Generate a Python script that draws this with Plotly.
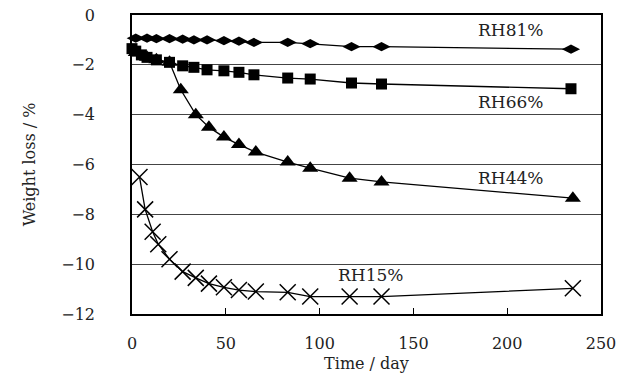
import plotly.graph_objects as go

# Storage time (days) and weight loss (%) for each relative-humidity condition
days_rh81 = [2, 8, 13, 20, 27, 33, 40, 49, 57, 65, 83, 95, 117, 133, 234]
loss_rh81 = [-0.93, -0.93, -0.95, -0.95, -0.97, -1.0, -1.0, -1.03, -1.05, -1.1, -1.1, -1.15, -1.27, -1.27, -1.37]

days_rh66 = [0, 2, 5, 8, 13, 20, 27, 33, 40, 49, 57, 65, 83, 95, 117, 133, 234]
loss_rh66 = [-1.35, -1.45, -1.6, -1.7, -1.8, -1.9, -2.04, -2.1, -2.2, -2.24, -2.3, -2.4, -2.53, -2.57, -2.73, -2.77, -2.96]

days_rh44 = [2, 8, 13, 20, 26, 34, 41, 49, 57, 66, 83, 95, 116, 133, 235]
loss_rh44 = [-1.5, -1.7, -1.8, -1.9, -3.0, -4.0, -4.5, -4.9, -5.2, -5.5, -5.9, -6.15, -6.55, -6.7, -7.35]

days_rh15 = [4, 7, 11, 14, 20, 27, 34, 41, 49, 57, 66, 83, 95, 116, 133, 235]
loss_rh15 = [-6.5, -7.8, -8.7, -9.2, -9.8, -10.3, -10.55, -10.78, -10.93, -11.04, -11.1, -11.13, -11.3, -11.3, -11.3, -10.97]

labels = ["RH81%", "RH66%", "RH44%", "RH15%"]
label_pos = [(202, -0.6), (202, -3.5), (202, -6.55), (127, -10.45)]

serif = "DejaVu Serif"

fig = go.Figure()

series = [
    (days_rh81, loss_rh81, dict(symbol="diamond-wide", size=13, color="black")),
    (days_rh66, loss_rh66, dict(symbol="square", size=11, color="black")),
    (days_rh44, loss_rh44, dict(symbol="triangle-up", size=14, color="black")),
    (days_rh15, loss_rh15, dict(symbol="x-thin", size=16, color="black",
                                line=dict(color="black", width=1.5))),
]
for x, y, marker in series:
    fig.add_trace(go.Scatter(
        x=x, y=y, mode="lines+markers",
        line=dict(color="black", width=1.3),
        marker=marker, cliponaxis=False, showlegend=False,
    ))

for text, (lx, ly) in zip(labels, label_pos):
    fig.add_annotation(x=lx, y=ly, text=text, showarrow=False,
                       font=dict(family=serif, size=17, color="#222"))

fig.update_layout(
    width=622, height=379,
    margin=dict(l=132, r=21, t=15, b=65),
    plot_bgcolor="white", paper_bgcolor="white",
    font=dict(family=serif, size=16, color="#222"),
)
fig.update_xaxes(
    range=[0, 250], dtick=50, showgrid=False, zeroline=False,
    showline=True, linecolor="black", linewidth=1.5, mirror=True,
    ticks="inside", ticklen=6, tickcolor="black",
    ticklabelstandoff=14, automargin=False,
    title=dict(text="Time / day", standoff=6, font=dict(family=serif, size=16)),
)
fig.update_yaxes(
    range=[-12, 0], dtick=2, showgrid=True, gridcolor="#444", gridwidth=1,
    zeroline=False, showline=True, linecolor="black", linewidth=1.5, mirror=True,
    ticks="", ticklabelstandoff=32, automargin=False,
    title=dict(text="Weight loss / %", standoff=22, font=dict(family=serif, size=16)),
)

fig.write_html("out.html")
